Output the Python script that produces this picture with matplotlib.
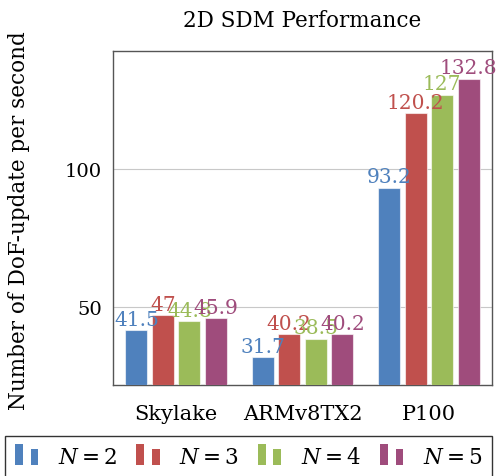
import matplotlib
matplotlib.use("Agg")
import matplotlib.pyplot as plt
from matplotlib.patches import Rectangle
from matplotlib.legend_handler import HandlerBase
import numpy as np

categories = ["Skylake", "ARMv8TX2", "P100"]
series_names = ["$N=2$", "$N=3$", "$N=4$", "$N=5$"]
values = [
    [41.5, 31.7, 93.2],
    [47, 40.2, 120.2],
    [44.8, 38.5, 127],
    [45.9, 40.2, 132.8],
]
labels = [
    ["41.5", "31.7", "93.2"],
    ["47", "40.2", "120.2"],
    ["44.8", "38.5", "127"],
    ["45.9", "40.2", "132.8"],
]
colors = ["#4f81bd", "#c0504d", "#9bbb59", "#9f4c7c"]
yticks = [50, 100]

plt.rcParams['font.family'] = ['DejaVu Serif']
plt.rcParams['mathtext.fontset'] = 'dejavuserif'

fig = plt.figure(figsize=(4.97, 4.77), dpi=100)
ax = fig.add_axes([113/497, 1-386/477, (492-113)/497, (386-52)/477])

x = np.arange(len(categories))
w = 0.174
step = 0.21
bottom = 21.7
for i, (vals, c) in enumerate(zip(values, colors)):
    pos = x + (i - 1.5) * step
    heights = [v - bottom for v in vals]
    ax.bar(pos, heights, w, bottom=bottom, color=c, edgecolor=(1, 1, 1, 0.6), linewidth=0.8, zorder=3)
    for p, v, t in zip(pos, vals, labels[i]):
        ax.text(p, v + 0.5, t, ha='center', va='bottom', color=c, fontsize=14.5, zorder=4, clip_on=False)

ax.set_xlim(-0.5, 2.5)
ax.set_ylim(bottom, 142.8)
ax.set_xticks(x)
ax.set_xticklabels(categories, fontsize=15)
ax.set_yticks(yticks)
ax.set_yticklabels([str(t) for t in yticks], fontsize=14)
ax.tick_params(axis='y', length=0, pad=8)
ax.tick_params(axis='x', length=0, pad=14)
ax.yaxis.grid(True, color='#c8c8c8', linewidth=0.8, zorder=0)
for s in ax.spines.values():
    s.set_color('#555555')
    s.set_linewidth(1.0)
ax.set_title("2D SDM Performance", fontsize=15.5, pad=18)
ax.set_ylabel("Number of DoF-update per second", fontsize=15.5)
ax.yaxis.set_label_coords(-0.219, 0.494)


class TwoBarHandler(HandlerBase):
    def create_artists(self, legend, orig_handle, xdescent, ydescent, width, height, fontsize, trans):
        c = orig_handle.get_facecolor()
        bw = width * 0.32
        r1 = Rectangle((-xdescent, -ydescent - height * 0.15), bw, height * 1.4, facecolor=c, edgecolor='none', transform=trans)
        r2 = Rectangle((-xdescent + width * 0.64, -ydescent - height * 0.15), bw, height * 1.05, facecolor=c, edgecolor='none', transform=trans)
        return [r1, r2]

handles = [Rectangle((0, 0), 1, 1, facecolor=c) for c in colors]
top = 1 - 437/477
h = 0.12
leg = fig.legend(handles, series_names, loc='upper left', bbox_to_anchor=(5/497, top - h, (492-5)/497, h),
                 mode='expand', ncol=4, fontsize=15.5, frameon=True, fancybox=False, framealpha=1,
                 handler_map={Rectangle: TwoBarHandler()}, handlelength=1.15, handletextpad=0.85,
                 borderaxespad=0, borderpad=0.45, columnspacing=1.0)
leg.get_frame().set_edgecolor('#333333')
leg.get_frame().set_linewidth(1.0)

fig.savefig("out.png", dpi=100)
